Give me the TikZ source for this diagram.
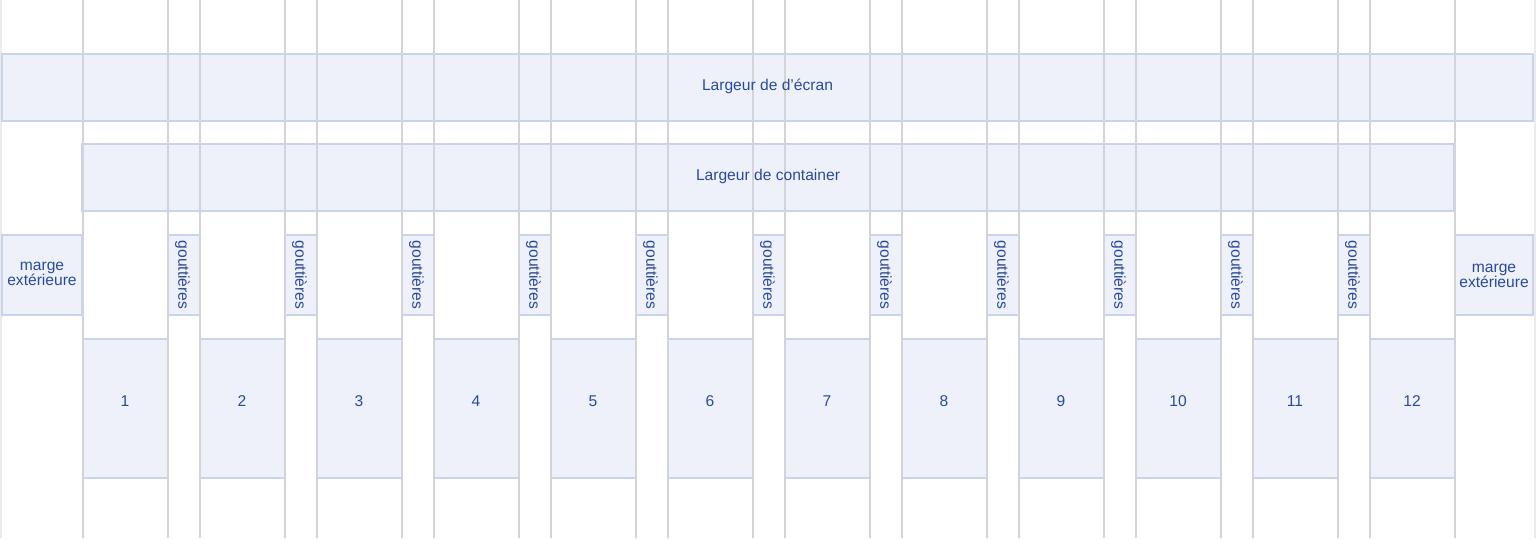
\documentclass[tikz,border=0pt]{standalone}
\usepackage{fontspec}
\setmainfont{Liberation Sans}
\definecolor{fillc}{HTML}{EEF1F9}
\definecolor{bordc}{HTML}{C9D3EA}
\definecolor{linec}{HTML}{D3D4D9}
\definecolor{edgec}{HTML}{EBEBED}
\definecolor{textc}{HTML}{2A4A9C}
\tikzset{
  band/.style={draw=bordc, fill=fillc, line width=1.2pt, inner sep=0pt, outer sep=0pt},
  lbl/.style={text=textc, font=\fontsize{15.6}{15}\selectfont, inner sep=0pt},
  gridline/.style={draw=linec, line width=1.8pt}
}
\begin{document}
\begin{tikzpicture}[x=1pt,y=-1pt]
\useasboundingbox[fill=white] (0,0) rectangle (1536,538);
% edges
\fill[edgec] (0,0) rectangle (2,538);
\fill[edgec] (1533.5,0) rectangle (1536,538);
% bands
\node[band, minimum width=1531pt, minimum height=67pt] (screen) at (767.5,87.5) {};
\node[band, minimum width=1372pt, minimum height=67pt] (container) at (768,177.5) {};
% margins
\node[band, minimum width=80pt, minimum height=80pt] (margL) at (42,275) {};
\node[band, minimum width=78pt, minimum height=80pt] (margR) at (1494,275) {};
% gutters
\foreach \i in {1,...,11}{
  \pgfmathsetmacro\gx{184+117*(\i-1)}
  \node[band, minimum width=32pt, minimum height=80pt] (gut\i) at (\gx,275) {};
}
% columns
\foreach \i in {1,...,12}{
  \pgfmathsetmacro\cx{125+117*(\i-1)}
  \node[band, minimum width=85pt, minimum height=139pt] (col\i) at (\cx,408.5) {};
}
% grid lines
\foreach \i in {1,...,12}{
  \pgfmathsetmacro\la{83+117*(\i-1)}
  \pgfmathsetmacro\lb{168+117*(\i-1)}
  \draw[gridline] (\la,0) -- (\la,538);
  \draw[gridline] (\lb,0) -- (\lb,538);
}
% labels
\node[lbl] at ([yshift=1.5pt]screen.center) {Largeur de d’écran};
\node[lbl] at ([yshift=1.5pt]container.center) {Largeur de container};
\node[lbl, align=center] at ([yshift=1pt]margL.center) {marge\\extérieure};
\node[lbl, align=center] at ([yshift=-1pt]margR.center) {marge\\extérieure};
\foreach \i in {1,...,11}{
  \node[lbl, rotate=-90] at ([xshift=-1.5pt]gut\i.center) {gouttières};
}
\foreach \i in {1,...,12}{
  \node[lbl] at ([yshift=7.5pt]col\i.center) {\i};
}
\end{tikzpicture}
\end{document}
